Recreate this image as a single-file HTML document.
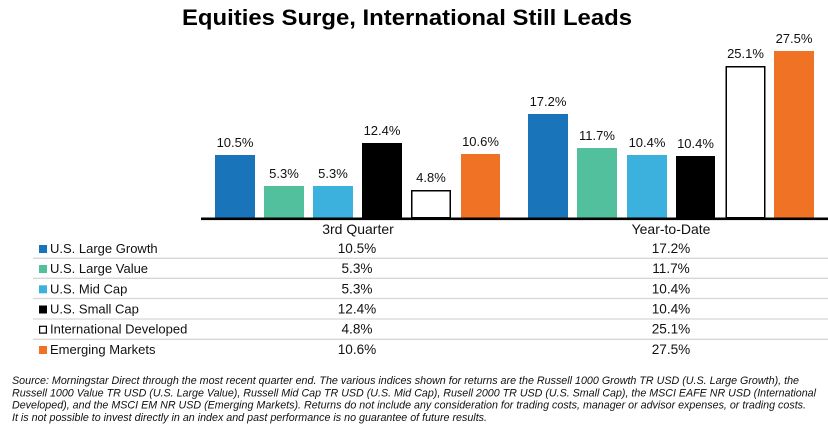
<!DOCTYPE html>
<html>
<head>
<meta charset="utf-8">
<style>
  html, body { margin: 0; padding: 0; background: #ffffff; }
  body { width: 828px; height: 433px; overflow: hidden; }
  svg { display: block; font-family: "Liberation Sans", Arial, sans-serif; }
</style>
</head>
<body>
<svg width="828" height="433" viewBox="0 0 828 433" xmlns="http://www.w3.org/2000/svg">
  <rect x="0" y="0" width="828" height="433" fill="#ffffff"/>

  <!-- Title -->
  <text x="182" y="25" font-size="22" font-weight="bold" fill="#000" textLength="450" lengthAdjust="spacingAndGlyphs">Equities Surge, International Still Leads</text>

  <!-- 3rd Quarter bars -->
  <rect x="215" y="155" width="40" height="62.5" fill="#1a74ba"/>
  <rect x="264" y="186" width="40" height="31.5" fill="#52bf9d"/>
  <rect x="313" y="186" width="40" height="31.5" fill="#3db1dd"/>
  <rect x="362" y="143" width="40" height="74.5" fill="#000000"/>
  <rect x="411.75" y="190.75" width="38.5" height="27" fill="#ffffff" stroke="#000" stroke-width="1.5"/>
  <rect x="461" y="154" width="39" height="63.5" fill="#f07224"/>

  <!-- YTD bars -->
  <rect x="528" y="114" width="40" height="103.5" fill="#1a74ba"/>
  <rect x="577" y="148" width="40" height="69.5" fill="#52bf9d"/>
  <rect x="627" y="155" width="40" height="62.5" fill="#3db1dd"/>
  <rect x="676" y="156" width="39" height="61.5" fill="#000000"/>
  <rect x="726.25" y="66.75" width="38.5" height="151" fill="#ffffff" stroke="#000" stroke-width="1.5"/>
  <rect x="774" y="51" width="40" height="166.5" fill="#f07224"/>

  <!-- Axis -->
  <rect x="201" y="217.5" width="627" height="2.6" fill="#000"/>

  <!-- Bar labels -->
  <g font-size="13" fill="#111" text-anchor="middle">
    <text x="235" y="147">10.5%</text>
    <text x="284" y="178">5.3%</text>
    <text x="333" y="178">5.3%</text>
    <text x="382" y="135">12.4%</text>
    <text x="431" y="182">4.8%</text>
    <text x="480.5" y="146">10.6%</text>

    <text x="548" y="106">17.2%</text>
    <text x="597" y="140">11.7%</text>
    <text x="647" y="147">10.4%</text>
    <text x="695.5" y="148">10.4%</text>
    <text x="745.5" y="58">25.1%</text>
    <text x="794" y="43">27.5%</text>
  </g>

  <!-- Category labels -->
  <g font-size="14" fill="#111" text-anchor="middle">
    <text x="358" y="234">3rd Quarter</text>
    <text x="671" y="234">Year-to-Date</text>
  </g>

  <!-- Table row lines -->
  <g stroke="#d6d6d6" stroke-width="1.3">
    <line x1="33" y1="258.3" x2="828" y2="258.3"/>
    <line x1="33" y1="278.3" x2="828" y2="278.3"/>
    <line x1="33" y1="298.5" x2="828" y2="298.5"/>
    <line x1="33" y1="319" x2="828" y2="319"/>
    <line x1="33" y1="339.3" x2="828" y2="339.3"/>
  </g>

  <!-- Legend squares -->
  <rect x="39" y="245" width="8" height="8" fill="#1a74ba"/>
  <rect x="39" y="265" width="8" height="8" fill="#52bf9d"/>
  <rect x="39" y="285.3" width="8" height="8" fill="#3db1dd"/>
  <rect x="39" y="305.5" width="8" height="8" fill="#000"/>
  <rect x="39.6" y="326.3" width="6.8" height="6.8" fill="#fff" stroke="#000" stroke-width="1.2"/>
  <rect x="39" y="346" width="8" height="8" fill="#f07224"/>

  <!-- Legend text -->
  <g font-size="13" fill="#111">
    <text x="50" y="253">U.S. Large Growth</text>
    <text x="50" y="273">U.S. Large Value</text>
    <text x="50" y="293.3">U.S. Mid Cap</text>
    <text x="50" y="313.5">U.S. Small Cap</text>
    <text x="50" y="333.7">International Developed</text>
    <text x="50" y="354">Emerging Markets</text>
  </g>

  <!-- Table values -->
  <g font-size="13.6" fill="#111" text-anchor="middle">
    <text x="357" y="253">10.5%</text>
    <text x="357" y="273">5.3%</text>
    <text x="357" y="293.3">5.3%</text>
    <text x="357" y="313.5">12.4%</text>
    <text x="357" y="333.7">4.8%</text>
    <text x="357" y="354">10.6%</text>

    <text x="671" y="253">17.2%</text>
    <text x="671" y="273">11.7%</text>
    <text x="671" y="293.3">10.4%</text>
    <text x="671" y="313.5">10.4%</text>
    <text x="671" y="333.7">25.1%</text>
    <text x="671" y="354">27.5%</text>
  </g>

  <!-- Footnote -->
  <g font-size="10.6" font-style="italic" fill="#111">
    <text x="12" y="384" textLength="787" lengthAdjust="spacingAndGlyphs">Source: Morningstar Direct through the most recent quarter end.  The various indices shown for returns are the Russell 1000 Growth TR USD (U.S. Large Growth), the</text>
    <text x="12" y="396.3" textLength="804" lengthAdjust="spacingAndGlyphs">Russell 1000 Value TR USD (U.S. Large Value), Russell Mid Cap TR USD (U.S. Mid Cap), Rusell 2000 TR USD (U.S. Small Cap), the MSCI EAFE NR USD  (International</text>
    <text x="12" y="408.6" textLength="794" lengthAdjust="spacingAndGlyphs">Developed), and the MSCI EM NR USD (Emerging Markets).  Returns do not include any consideration for trading costs, manager or advisor expenses, or trading costs.</text>
    <text x="12" y="421" textLength="475" lengthAdjust="spacingAndGlyphs">It is not possible to invest directly in an index and past performance is no guarantee of future results.</text>
  </g>
</svg>
</body>
</html>
